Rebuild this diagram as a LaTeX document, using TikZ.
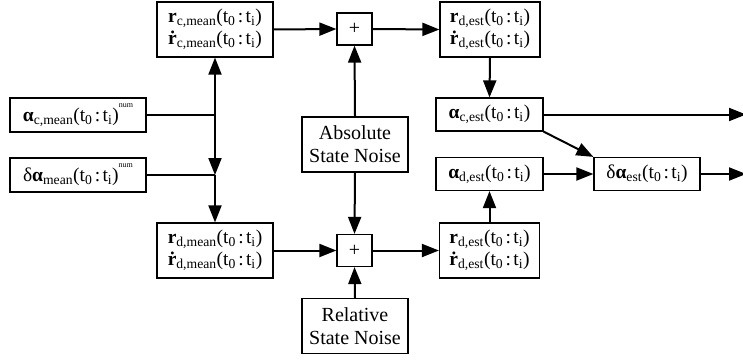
\documentclass[tikz,border=0pt]{standalone}
\usepackage{fontspec}
\setmainfont{Liberation Serif}
\usetikzlibrary{arrows.meta}
\newcommand\tspan{(t\textsubscript{0}\hspace{0.12em}:\hspace{0.12em}t\textsubscript{i})}
\newcommand\rdt{\textbf{ṙ}}
\newcommand\numsup{\raisebox{0.72em}{\fontsize{8}{8}\selectfont num}}
\begin{document}
\begin{tikzpicture}[x=1pt,y=-1pt,
  box/.style={draw, line width=1.2pt, inner sep=0pt, align=center, font=\fontsize{19.5}{22}\selectfont},
  wide/.style={box, minimum width=116pt, minimum height=55pt},
  est/.style={box, minimum width=100pt, minimum height=55pt},
  single/.style={box, minimum width=107pt, minimum height=33pt},
  inbox/.style={box, minimum width=136pt, minimum height=34pt},
  plusbox/.style={box, minimum width=35pt, minimum height=32pt, font=\fontsize{20}{22}\selectfont},
  noise/.style={box, minimum width=106pt, minimum height=55pt, font=\fontsize{20}{23}\selectfont},
  conn/.style={line width=2pt, -{Triangle[length=17pt,width=13pt]}},
  feed/.style={line width=1.5pt}]
\useasboundingbox (0,0) rectangle (743,362);
% nodes
\node[wide] (rcm) at (215,29.5) {\textbf{r}\textsubscript{c,mean}\tspan\\ \rdt\textsubscript{c,mean}\tspan};
\node[plusbox] (pt) at (354.5,29) {+};
\node[est] (ret) at (490,29.5) {\textbf{r}\textsubscript{d,est}\tspan\\ \rdt\textsubscript{d,est}\tspan};
\node[inbox] (acm) at (78,115) {\textbf{α}\textsubscript{c,mean}\tspan\numsup};
\node[inbox] (dam) at (78,175) {δ\textbf{α}\textsubscript{mean}\tspan\numsup};
\node[noise] (asn) at (355,144.5) {Absolute\\State Noise};
\node[single] (ace) at (489.5,114.5) {\textbf{α}\textsubscript{c,est}\tspan};
\node[single] (ade) at (489.5,174) {\textbf{α}\textsubscript{d,est}\tspan};
\node[single, minimum width=106pt] (dae) at (647,174) {δ\textbf{α}\textsubscript{est}\tspan};
\node[wide] (rdm) at (215,250.5) {\textbf{r}\textsubscript{d,mean}\tspan\\ \rdt\textsubscript{d,mean}\tspan};
\node[plusbox] (pb) at (354.5,250.5) {+};
\node[est] (reb) at (489.5,250.5) {\textbf{r}\textsubscript{d,est}\tspan\\ \rdt\textsubscript{d,est}\tspan};
\node[noise] (rsn) at (355,326) {Relative\\State Noise};
% junctions and free ends
\coordinate (j1) at (215,115);
\coordinate (j2) at (215,175);
\coordinate (o1) at (746,114.5);
\coordinate (o2) at (746,174);
% connectors
\draw[feed] (acm.east) -- (j1);
\draw[feed] (dam.east) -- (j2);
\draw[conn] (j1) -- (rcm.south);
\draw[conn] (j1) -- (j2);
\draw[conn] (j2) -- (rdm.north);
\draw[conn] (rcm.east) -- (pt.west);
\draw[conn] (pt.east) -- (ret.west);
\draw[conn] (asn.north) -- (pt.south);
\draw[conn] (asn.south) -- (pb.north);
\draw[conn] (rsn.north) -- (pb.south);
\draw[conn] (rdm.east) -- (pb.west);
\draw[conn] (pb.east) -- (reb.west);
\draw[conn] (ret.south) -- (ace.north);
\draw[conn] (reb.north) -- (ade.south);
\draw[conn] (ace.east) -- (o1);
\draw[conn] (ace.south east) -- (dae.north west);
\draw[conn] (ade.east) -- (dae.west);
\draw[conn] (dae.east) -- (o2);
\end{tikzpicture}
\end{document}
